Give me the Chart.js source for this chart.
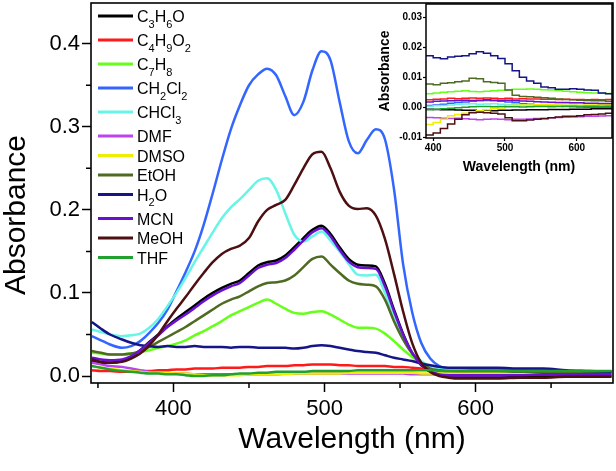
<!DOCTYPE html>
<html>
<head>
<meta charset="utf-8">
<script src="https://cdn.jsdelivr.net/npm/chart.js@4.4.0/dist/chart.umd.min.js"></script>
<style>
  html, body { margin: 0; padding: 0; background: #fff; }
  #wrap { position: relative; width: 616px; height: 471px; }
  #main { position: absolute; left: 0; top: 0; }
  #inset { position: absolute; left: 375px; top: 0; }
</style>
</head>
<body>
<div id="wrap">
  <canvas id="main" width="616" height="471"></canvas>
  <canvas id="inset" width="241" height="180"></canvas>
</div>
<script>
// solvent names (legend order) and line colours
const solvents = ["C₃H₆O", "C₄H₉O₂", "C₇H₈", "CH₂Cl₂", "CHCl₃", "DMF", "DMSO", "EtOH", "H₂O", "MCN", "MeOH", "THF"];
const colors = ["#000000", "#ff1a1a", "#66ff1a", "#3366ff", "#66f5e6", "#bb44ee", "#eeee00", "#4f6b22", "#151588", "#6a10d0", "#4d0f12", "#22a030"];

// main spectra, wavelength in nm
const wavelength = [346,352,358,366,372,378,384,390,396,402,408,414,420,426,432,438,444,450,456,462,468,474,480,486,492,498,504,510,516,522,528,534,540,546,552,558,564,570,576,582,590,600,615,630,645,660,675,690];

const absC3H6O = [0.018,0.016,0.016,0.018,0.023,0.031,0.041,0.050,0.060,0.069,0.077,0.085,0.093,0.100,0.106,0.111,0.115,0.124,0.133,0.137,0.139,0.145,0.155,0.166,0.176,0.181,0.171,0.155,0.141,0.134,0.133,0.132,0.111,0.080,0.051,0.028,0.013,0.005,0.001,0.000,-0.001,-0.001,-0.001,-0.001,0.000,0.000,0.000,0.000];
const absC4H9O2 = [0.007,0.006,0.006,0.005,0.005,0.006,0.006,0.007,0.007,0.008,0.008,0.009,0.009,0.009,0.010,0.010,0.010,0.011,0.011,0.012,0.012,0.012,0.013,0.013,0.014,0.014,0.014,0.013,0.013,0.012,0.012,0.012,0.012,0.011,0.011,0.010,0.009,0.008,0.007,0.006,0.005,0.005,0.004,0.004,0.004,0.003,0.003,0.003];
const absC7H8 = [0.028,0.027,0.026,0.026,0.027,0.029,0.031,0.034,0.036,0.039,0.043,0.049,0.054,0.060,0.066,0.073,0.078,0.083,0.088,0.092,0.087,0.081,0.076,0.075,0.077,0.078,0.074,0.068,0.062,0.058,0.058,0.057,0.051,0.042,0.032,0.023,0.015,0.010,0.007,0.006,0.006,0.006,0.006,0.005,0.005,0.005,0.005,0.005];
const absCH2Cl2 = [0.048,0.043,0.038,0.034,0.036,0.042,0.052,0.064,0.080,0.102,0.125,0.150,0.182,0.220,0.260,0.297,0.326,0.350,0.363,0.370,0.362,0.337,0.314,0.330,0.368,0.391,0.380,0.330,0.283,0.268,0.284,0.297,0.285,0.225,0.135,0.077,0.040,0.021,0.012,0.009,0.008,0.008,0.008,0.007,0.007,0.006,0.005,0.005];
const absCHCl3 = [0.056,0.053,0.050,0.048,0.049,0.051,0.058,0.069,0.084,0.100,0.118,0.137,0.155,0.173,0.190,0.203,0.213,0.224,0.235,0.238,0.224,0.196,0.170,0.162,0.168,0.174,0.163,0.150,0.135,0.122,0.121,0.122,0.100,0.070,0.045,0.028,0.018,0.012,0.009,0.008,0.007,0.006,0.006,0.005,0.005,0.005,0.004,0.004];
const absDMF = [0.016,0.014,0.012,0.011,0.009,0.007,0.005,0.004,0.004,0.003,0.003,0.002,0.002,0.002,0.002,0.002,0.002,0.002,0.002,0.002,0.002,0.003,0.003,0.003,0.003,0.003,0.003,0.003,0.003,0.003,0.003,0.003,0.003,0.003,0.003,0.002,0.002,0.002,0.002,0.001,0.001,0.001,0.001,0.002,0.002,0.002,0.002,0.002];
const absDMSO = [0.012,0.010,0.009,0.007,0.006,0.005,0.004,0.004,0.004,0.003,0.003,0.002,0.001,0.001,0.001,0.001,0.001,0.002,0.002,0.002,0.002,0.002,0.003,0.003,0.003,0.003,0.003,0.003,0.004,0.004,0.004,0.004,0.004,0.004,0.004,0.004,0.003,0.003,0.003,0.003,0.003,0.003,0.003,0.003,0.003,0.003,0.003,0.003];
const absEtOH = [0.030,0.028,0.026,0.026,0.027,0.030,0.035,0.041,0.047,0.053,0.059,0.066,0.073,0.080,0.087,0.092,0.096,0.102,0.108,0.112,0.113,0.115,0.121,0.131,0.141,0.144,0.134,0.124,0.115,0.111,0.110,0.108,0.092,0.066,0.044,0.027,0.016,0.009,0.007,0.006,0.006,0.006,0.006,0.005,0.005,0.005,0.005,0.005];
const absH2O = [0.065,0.057,0.050,0.044,0.040,0.037,0.036,0.035,0.036,0.035,0.035,0.036,0.035,0.035,0.035,0.034,0.035,0.035,0.034,0.034,0.034,0.034,0.033,0.034,0.036,0.037,0.036,0.034,0.032,0.030,0.029,0.028,0.025,0.022,0.020,0.018,0.015,0.013,0.011,0.010,0.010,0.010,0.010,0.009,0.009,0.007,0.006,0.005];
const absMCN = [0.022,0.020,0.019,0.020,0.024,0.031,0.040,0.049,0.059,0.067,0.074,0.082,0.090,0.097,0.103,0.108,0.112,0.121,0.130,0.134,0.136,0.142,0.152,0.163,0.173,0.178,0.168,0.152,0.138,0.131,0.130,0.129,0.108,0.078,0.050,0.028,0.014,0.006,0.002,0.001,0.001,0.001,0.001,0.001,0.002,0.002,0.002,0.002];
const absMeOH = [0.020,0.017,0.016,0.017,0.021,0.027,0.037,0.050,0.066,0.081,0.095,0.110,0.124,0.137,0.147,0.153,0.157,0.166,0.186,0.200,0.206,0.212,0.230,0.250,0.267,0.270,0.250,0.222,0.205,0.201,0.202,0.193,0.165,0.123,0.078,0.040,0.016,0.005,0.000,-0.002,-0.003,-0.003,-0.003,-0.002,-0.002,-0.001,-0.001,-0.001];
const absTHF = [0.012,0.010,0.008,0.006,0.005,0.004,0.003,0.003,0.002,0.002,0.001,0.000,0.000,0.001,0.001,0.002,0.003,0.003,0.004,0.004,0.005,0.005,0.005,0.005,0.006,0.006,0.006,0.006,0.006,0.007,0.007,0.007,0.007,0.007,0.007,0.007,0.007,0.007,0.006,0.006,0.006,0.006,0.006,0.006,0.006,0.006,0.006,0.006];

// inset (blank-level spectra)
const insetWavelength = [390,400,410,420,430,440,450,460,470,480,490,500,510,520,530,540,550,560,570,580,590,600,610,620,630,640,650];

const insC3H6O = [-0.0006,-0.0007,-0.0008,-0.0008,-0.0009,-0.0010,-0.0010,-0.0011,-0.0010,-0.0011,-0.0010,-0.0010,-0.0009,-0.0009,-0.0008,-0.0008,-0.0008,-0.0007,-0.0007,-0.0007,-0.0006,-0.0006,-0.0006,-0.0005,-0.0005,-0.0005,-0.0005];
const insC4H9O2 = [0.0025,0.0027,0.0028,0.0030,0.0029,0.0030,0.0031,0.0030,0.0031,0.0030,0.0029,0.0030,0.0028,0.0029,0.0028,0.0028,0.0027,0.0027,0.0026,0.0027,0.0026,0.0026,0.0025,0.0026,0.0025,0.0026,0.0026];
const insC7H8 = [0.0045,0.0048,0.0050,0.0052,0.0054,0.0055,0.0053,0.0052,0.0054,0.0055,0.0057,0.0058,0.0060,0.0060,0.0061,0.0060,0.0059,0.0058,0.0056,0.0054,0.0052,0.0050,0.0049,0.0048,0.0047,0.0046,0.0045];
const insCH2Cl2 = [0.0006,0.0008,0.0010,0.0014,0.0016,0.0018,0.0020,0.0022,0.0023,0.0022,0.0020,0.0018,0.0015,0.0012,0.0010,0.0008,0.0006,0.0005,0.0004,0.0003,0.0002,0.0001,0.0000,0.0000,0.0000,0.0000,0.0000];
const insCHCl3 = [0.0004,0.0005,0.0006,0.0008,0.0010,0.0011,0.0012,0.0010,0.0011,0.0012,0.0010,0.0009,0.0010,0.0009,0.0008,0.0008,0.0007,0.0008,0.0007,0.0006,0.0007,0.0006,0.0005,0.0006,0.0005,0.0005,0.0005];
const insDMF = [-0.0034,-0.0035,-0.0036,-0.0037,-0.0036,-0.0038,-0.0040,-0.0041,-0.0040,-0.0039,-0.0040,-0.0041,-0.0040,-0.0040,-0.0039,-0.0037,-0.0036,-0.0035,-0.0034,-0.0033,-0.0032,-0.0031,-0.0030,-0.0030,-0.0029,-0.0028,-0.0028];
const insDMSO = [-0.0057,-0.0050,-0.0040,-0.0028,-0.0024,-0.0020,-0.0015,-0.0011,-0.0008,-0.0005,-0.0002,0.0006,0.0007,0.0008,0.0008,0.0009,0.0010,0.0010,0.0011,0.0012,0.0012,0.0012,0.0011,0.0011,0.0010,0.0010,0.0010];
const insEtOH = [0.0078,0.0075,0.0080,0.0082,0.0085,0.0088,0.0097,0.0095,0.0085,0.0083,0.0080,0.0058,0.0040,0.0036,0.0035,0.0034,0.0032,0.0030,0.0028,0.0026,0.0025,0.0024,0.0023,0.0022,0.0022,0.0020,0.0020];
const insH2O = [0.0172,0.0165,0.0162,0.0168,0.0170,0.0172,0.0178,0.0185,0.0180,0.0172,0.0163,0.0145,0.0122,0.0100,0.0088,0.0080,0.0068,0.0065,0.0060,0.0060,0.0062,0.0060,0.0058,0.0057,0.0048,0.0045,0.0045];
const insMCN = [0.0018,0.0020,0.0021,0.0022,0.0023,0.0024,0.0023,0.0024,0.0025,0.0024,0.0023,0.0024,0.0022,0.0021,0.0020,0.0019,0.0018,0.0017,0.0016,0.0016,0.0015,0.0015,0.0014,0.0014,0.0013,0.0013,0.0012];
const insMeOH = [-0.0092,-0.0085,-0.0070,-0.0055,-0.0040,-0.0025,-0.0018,-0.0016,-0.0018,-0.0020,-0.0022,-0.0035,-0.0045,-0.0045,-0.0042,-0.0040,-0.0038,-0.0035,-0.0032,-0.0030,-0.0030,-0.0028,-0.0025,-0.0024,-0.0022,-0.0020,-0.0018];
const insTHF = [-0.0008,-0.0006,-0.0005,-0.0003,-0.0001,0.0000,0.0002,0.0003,0.0003,0.0002,0.0003,0.0002,0.0002,0.0001,0.0002,0.0003,0.0003,0.0002,0.0003,0.0004,0.0004,0.0003,0.0004,0.0004,0.0003,0.0004,0.0004];

const mainSeries = [absC3H6O, absC4H9O2, absC7H8, absCH2Cl2, absCHCl3, absDMF, absDMSO, absEtOH, absH2O, absMCN, absMeOH, absTHF];
const insetSeries = [insC3H6O, insC4H9O2, insC7H8, insCH2Cl2, insCHCl3, insDMF, insDMSO, insEtOH, insH2O, insMCN, insMeOH, insTHF];

const FONT = "'Liberation Sans', Arial, Helvetica, sans-serif";
Chart.defaults.font.family = FONT;
Chart.defaults.color = "#000";

function makeDatasets(xs, series, width, stepped) {
    return series.map((ys, i) => ({
        label: solvents[i],
        data: xs.map((x, k) => ({x: x, y: ys[k]})),
        borderColor: colors[i],
        backgroundColor: colors[i],
        borderWidth: width,
        pointRadius: 0,
        fill: false,
        stepped: stepped,
        cubicInterpolationMode: "monotone",
        order: series.length - i   // later solvents drawn on top
    }));
}

// keep the plot box where it is, labels may hang over the edge
function noEdgePadding(s) {
    s.paddingTop = 0;
    s.paddingBottom = 0;
}

// box around the plot area
function drawFrame(chart, lw) {
    const a = chart.chartArea, ctx = chart.ctx;
    ctx.save();
    ctx.strokeStyle = "#000";
    ctx.lineWidth = lw;
    ctx.strokeRect(a.left, a.top, a.right - a.left, a.bottom - a.top);
    ctx.restore();
}

// draws text where ₀-₉ become small lowered digits
function drawSubText(ctx, text, x, y, size) {
    const subs = "₀₁₂₃₄₅₆₇₈₉";
    let cx = x;
    for (const ch of text) {
        const k = subs.indexOf(ch);
        if (k >= 0) {
            ctx.font = Math.round(size * 0.68) + "px " + FONT;
            ctx.fillText(String(k), cx, y + size * 0.36);
            cx += ctx.measureText(String(k)).width;
        } else {
            ctx.font = size + "px " + FONT;
            ctx.fillText(ch, cx, y);
            cx += ctx.measureText(ch).width;
        }
    }
}

const mainDecor = {
    id: "mainDecor",
    afterDatasetsDraw(chart) {
        const ctx = chart.ctx;
        const xs = chart.scales.x, ys = chart.scales.y;
        drawFrame(chart, 1.6);

        // minor ticks halfway between the labelled ones
        ctx.save();
        ctx.strokeStyle = "#000";
        ctx.lineWidth = 1.5;
        ctx.beginPath();
        for (let v = Math.ceil(xs.min / 50) * 50; v <= xs.max; v += 50) {
            if (v % 100 === 0) continue;
            const px = xs.getPixelForValue(v);
            ctx.moveTo(px, ys.bottom);
            ctx.lineTo(px, ys.bottom + 5);
        }
        for (let k = Math.ceil(ys.min / 0.05); k * 0.05 <= ys.max - 0.002; k++) {
            if (k % 2 === 0) continue;
            const py = ys.getPixelForValue(k * 0.05);
            ctx.moveTo(xs.left, py);
            ctx.lineTo(xs.left - 5, py);
        }
        ctx.stroke();
        ctx.restore();
    },
    afterDraw(chart) {
        const ctx = chart.ctx;
        // y axis title
        ctx.save();
        ctx.translate(17, 215);
        ctx.rotate(-Math.PI / 2);
        ctx.font = "30px " + FONT;
        ctx.fillStyle = "#000";
        ctx.textAlign = "center";
        ctx.textBaseline = "middle";
        ctx.fillText("Absorbance", 0, 0);
        ctx.restore();

        // legend inside the top-left corner
        ctx.save();
        ctx.fillStyle = "#000";
        ctx.textBaseline = "alphabetic";
        let y = 16;
        chart.data.datasets.forEach(ds => {
            ctx.strokeStyle = ds.borderColor;
            ctx.lineWidth = 3;
            ctx.beginPath();
            ctx.moveTo(98, y);
            ctx.lineTo(133, y);
            ctx.stroke();
            drawSubText(ctx, ds.label, 137, y + 6, 16);
            y += /[₀-₉]/.test(ds.label) ? 24 : 19.5;
        });
        ctx.restore();
    }
};

new Chart(document.getElementById("main"), {
    type: "line",
    data: { datasets: makeDatasets(wavelength, mainSeries, 2.5, false) },
    options: {
        responsive: false,
        animation: false,
        layout: { padding: { top: 3, right: 3, left: 0, bottom: 0 } },
        plugins: { legend: { display: false }, tooltip: { enabled: false } },
        scales: {
            x: {
                type: "linear",
                min: 345.4,
                max: 691,
                border: { display: false },
                grid: { drawOnChartArea: false, tickLength: 9, tickColor: "#000", tickWidth: 1.5 },
                ticks: { stepSize: 100, includeBounds: false, font: { size: 22 }, padding: 4, maxRotation: 0 },
                title: { display: true, text: "Wavelength (nm)", font: { size: 30 }, padding: { top: 0, bottom: 13 } },
                afterFit: s => { s.height = 88; }
            },
            y: {
                type: "linear",
                min: -0.0084,
                max: 0.449,
                border: { display: false },
                grid: { drawOnChartArea: false, tickLength: 9, tickColor: "#000", tickWidth: 1.5 },
                ticks: { stepSize: 0.1, includeBounds: false, font: { size: 22 }, padding: 2, callback: v => v.toFixed(1) },
                afterFit: s => { s.width = 91; noEdgePadding(s); }
            }
        }
    },
    plugins: [mainDecor]
});

new Chart(document.getElementById("inset"), {
    type: "line",
    data: { datasets: makeDatasets(insetWavelength, insetSeries, 1.5, true) },
    options: {
        responsive: false,
        animation: false,
        layout: { padding: { top: 4, right: 4, left: 0, bottom: 0 } },
        plugins: { legend: { display: false }, tooltip: { enabled: false } },
        scales: {
            x: {
                type: "linear",
                min: 390,
                max: 649,
                border: { display: false },
                grid: { drawOnChartArea: false, tickLength: 3, tickColor: "#000", tickWidth: 1.2 },
                ticks: { stepSize: 100, includeBounds: false, font: { size: 10, weight: "bold" }, padding: 1, maxRotation: 0 },
                title: { display: true, text: "Wavelength (nm)", font: { size: 14, weight: "bold" }, padding: { top: 0, bottom: 4.6 } },
                afterFit: s => { s.height = 42; }
            },
            y: {
                type: "linear",
                min: -0.0102,
                max: 0.0344,
                border: { display: false },
                grid: { drawOnChartArea: false, tickLength: 3, tickColor: "#000", tickWidth: 1.2 },
                ticks: { stepSize: 0.01, includeBounds: false, font: { size: 10, weight: "bold" }, padding: 1, callback: v => v.toFixed(2) },
                title: { display: true, text: "Absorbance", font: { size: 14, weight: "bold" }, padding: { top: 1.6, bottom: 0 } },
                afterFit: s => { s.width = 51; noEdgePadding(s); }
            }
        }
    },
    plugins: [{ id: "insetFrame", afterDatasetsDraw: c => drawFrame(c, 1.5) }]
});
</script>
</body>
</html>
